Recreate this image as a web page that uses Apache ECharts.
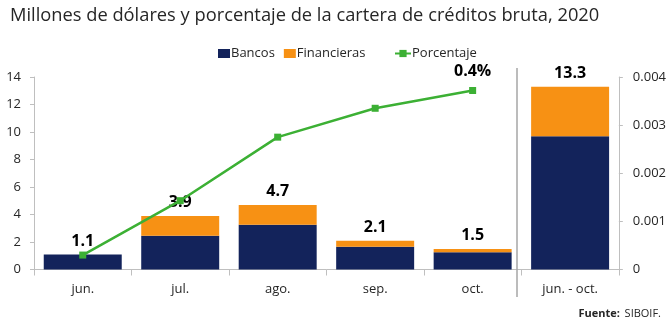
<!DOCTYPE html>
<html>
<head>
<meta charset="utf-8">
<script src="https://cdn.jsdelivr.net/npm/echarts@6/dist/echarts.min.js"></script>
<style>
  html, body { margin: 0; padding: 0; background: #fff; }
  #chart { width: 669px; height: 321px; }
</style>
</head>
<body>
<div id="chart"></div>
<script>
// Monthly portfolio, millions of dollars, plus share of gross credit portfolio
const categories = ['jun.', 'jul.', 'ago.', 'sep.', 'oct.', 'jun. - oct.'];
const bancos = [1.1, 2.45, 3.25, 1.65, 1.25, 9.7];
const financieras = [0, 1.45, 1.45, 0.45, 0.25, 3.6];
const porcentaje = [0.0003, 0.00143, 0.00275, 0.00335, 0.00372, null];
const leftTicks = { min: 0, max: 14, interval: 2 };
const rightTicks = { min: 0, max: 0.004, interval: 0.001 };

const totals = bancos.map((b, i) => b + financieras[i]);

const FONT = '"Open Sans", "Noto Sans", sans-serif';
const AXIS_GREY = '#bfbfbf';

const chart = echarts.init(document.getElementById('chart'));

const option = {
  animation: false,
  textStyle: { fontFamily: FONT },
  title: [
    {
      text: 'Millones de dólares y porcentaje de la cartera de créditos bruta, 2020',
      left: 5, top: 2,
      textStyle: { fontFamily: FONT, fontSize: 18.3, fontWeight: 'normal', color: '#262626' }
    },
    {
      text: '{b|Fuente:} {n|SIBOIF.}',
      right: 3, top: 300,
      textStyle: {
        fontWeight: 'normal',
        rich: {
          b: { fontFamily: FONT, fontSize: 11, fontWeight: 'bold', color: '#262626' },
          n: { fontFamily: FONT, fontSize: 11, fontWeight: 'normal', color: '#262626' }
        }
      }
    }
  ],
  legend: [
    {
      data: ['Bancos', 'Financieras'],
      left: 213, top: 42,
      itemWidth: 12, itemHeight: 9, itemGap: 9,
      icon: 'rect',
      textStyle: { fontFamily: FONT, fontSize: 13, color: '#262626', padding: [0, 0, 0, -4] }
    },
    {
      data: ['Porcentaje'],
      left: 389, top: 42,
      itemWidth: 16, itemHeight: 9,
      textStyle: { fontFamily: FONT, fontSize: 13, color: '#262626', padding: [0, 0, 0, -4] }
    }
  ],
  grid: { left: 34, right: 45, top: 77, bottom: 51.5, containLabel: false },
  xAxis: {
    type: 'category',
    data: categories,
    axisLine: { lineStyle: { color: AXIS_GREY, width: 1 } },
    axisTick: { show: true, length: 6, lineStyle: { color: AXIS_GREY } },
    axisLabel: { fontFamily: FONT, fontSize: 13, color: '#262626', margin: 13 }
  },
  yAxis: [
    {
      type: 'value',
      min: leftTicks.min, max: leftTicks.max, interval: leftTicks.interval,
      splitLine: { show: false },
      axisLine: { show: true, lineStyle: { color: AXIS_GREY } },
      axisTick: { show: true, length: 4, lineStyle: { color: AXIS_GREY } },
      axisLabel: { fontFamily: FONT, fontSize: 13, color: '#262626', margin: 13 }
    },
    {
      type: 'value',
      position: 'right',
      min: rightTicks.min, max: rightTicks.max, interval: rightTicks.interval,
      splitLine: { show: false },
      axisLine: { show: true, lineStyle: { color: AXIS_GREY } },
      axisTick: { show: true, length: 4, lineStyle: { color: AXIS_GREY } },
      axisLabel: { fontFamily: FONT, fontSize: 13, color: '#262626', margin: 14 }
    }
  ],
  series: [
    {
      name: 'Bancos',
      type: 'bar',
      stack: 'cartera',
      barCategoryGap: '20%',
      itemStyle: { color: '#13235b' },
      data: bancos
    },
    {
      name: 'Financieras',
      type: 'bar',
      stack: 'cartera',
      itemStyle: { color: '#f79114' },
      label: {
        show: true,
        position: 'top',
        distance: 5,
        fontFamily: FONT,
        fontSize: 16,
        fontWeight: 'bold',
        color: '#000',
        formatter: p => totals[p.dataIndex].toFixed(1)
      },
      data: financieras
    },
    {
      name: 'Porcentaje',
      type: 'line',
      yAxisIndex: 1,
      z: 5,
      symbol: 'rect',
      symbolSize: 7,
      lineStyle: { color: '#3cb034', width: 2.5 },
      itemStyle: { color: '#3cb034' },
      label: {
        show: true,
        position: 'top',
        distance: 8,
        fontFamily: FONT,
        fontSize: 16,
        fontWeight: 'bold',
        color: '#000',
        formatter: p => (p.dataIndex === 4 ? (p.value * 100).toFixed(1) + '%' : '')
      },
      data: porcentaje
    }
  ]
};

chart.setOption(option);

// Divider separating the monthly bars from the period total
const xa = chart.convertToPixel({ xAxisIndex: 0 }, categories[4]);
const xb = chart.convertToPixel({ xAxisIndex: 0 }, categories[5]);
const divX = Math.round((xa + xb) / 2) - 4;
chart.setOption({
  graphic: [{
    type: 'line',
    shape: { x1: divX, y1: 68, x2: divX, y2: 297 },
    style: { stroke: '#a6a6a6', lineWidth: 1.5 },
    z: 10
  }]
});
</script>
</body>
</html>
